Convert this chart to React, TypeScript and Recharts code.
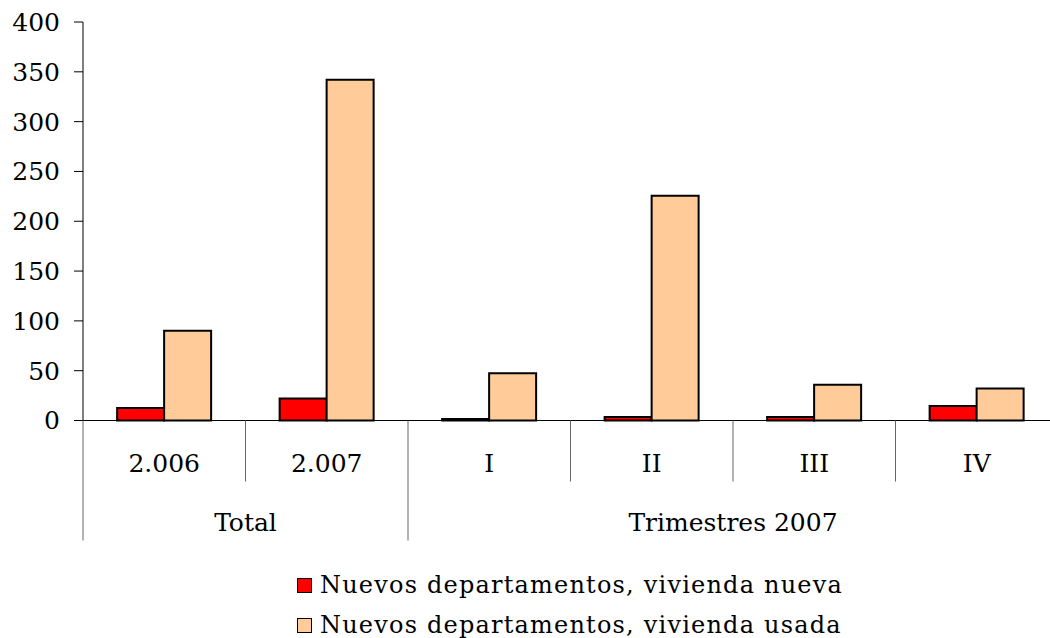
import { Bar, BarChart, Legend, XAxis, YAxis } from "recharts"

const categories = ["2.006", "2.007", "I", "II", "III", "IV"]
const nuevaValues = [12.5, 22, 1.5, 3.5, 3.5, 14.5]
const usadaValues = [90, 342, 47.5, 225.5, 36, 32]
const yTicks = [0, 50, 100, 150, 200, 250, 300, 350, 400]
const groups = [
  { label: "Total", start: 0, span: 2 },
  { label: "Trimestres 2007", start: 2, span: 4 },
]
const seriesNames = ["Nuevos departamentos, vivienda nueva", "Nuevos departamentos, vivienda usada"]

const data = categories.map((cat, i) => ({
  cat,
  nueva: nuevaValues[i],
  usada: usadaValues[i],
}))

const CHART_W = 1058
const CHART_H = 638
const Y_W = 83
const BAND = (CHART_W - Y_W) / categories.length
const FONT = "'DejaVu Serif', serif"

function CategoryTick(props: any) {
  const { x, y, payload } = props
  const i = payload.index
  const left = x - BAND / 2
  const groupStart = groups.find((g) => g.start === i)
  const isLast = i === categories.length - 1
  return (
    <g>
      <line x1={left} y1={y} x2={left} y2={y + (groupStart ? 120 : 61)} stroke="#666" strokeWidth={1} />
      {isLast && <line x1={x + BAND / 2} y1={y} x2={x + BAND / 2} y2={y + 120} stroke="#666" strokeWidth={1} />}
      <text x={x} y={y + 51} textAnchor="middle" fontSize={25} fontFamily={FONT} fill="#000">
        {payload.value}
      </text>
      {groupStart && (
        <text x={left + (groupStart.span * BAND) / 2} y={y + 110} textAnchor="middle" fontSize={25} fontFamily={FONT} fill="#000">
          {groupStart.label}
        </text>
      )}
    </g>
  )
}

function LegendBox() {
  const colors = ["#FF0000", "#FFCC99"]
  return (
    <div style={{ height: 87, paddingLeft: 297, paddingTop: 14, boxSizing: "border-box" }}>
      {seriesNames.map((name, i) => (
        <div key={name} style={{ display: "flex", alignItems: "center", height: 40 }}>
          <span
            style={{
              width: 13,
              height: 13,
              background: colors[i],
              border: "1.5px solid #000",
              marginRight: 8,
              display: "inline-block",
            }}
          />
          <span style={{ fontFamily: FONT, fontSize: 24, letterSpacing: 1.2, color: "#000" }}>{name}</span>
        </div>
      ))}
    </div>
  )
}

export default function App() {
  return (
    <div style={{ position: "absolute", left: 0, top: 0, width: 1050, height: 638, overflow: "hidden", background: "#fff" }}>
      <BarChart
        width={CHART_W}
        height={CHART_H}
        data={data}
        margin={{ top: 22, right: 0, left: 0, bottom: 0 }}
        barCategoryGap="21%"
        barGap={0}
      >
        <XAxis
          dataKey="cat"
          interval={0}
          height={130.5}
          tickLine={false}
          tickSize={0}
          tickMargin={0}
          axisLine={{ stroke: "#000", strokeWidth: 1 }}
          tick={<CategoryTick />}
        />
        <YAxis
          width={Y_W}
          domain={[0, 400]}
          ticks={yTicks}
          tickSize={9}
          tickMargin={14}
          axisLine={{ stroke: "#000", strokeWidth: 1 }}
          tickLine={{ stroke: "#000", strokeWidth: 1 }}
          tick={{ fontSize: 25, fontFamily: FONT, fill: "#000" }}
        />
        <Legend verticalAlign="bottom" height={87} wrapperStyle={{ left: 0, width: 1050 }} content={<LegendBox />} />
        <Bar dataKey="nueva" name={seriesNames[0]} fill="#FF0000" stroke="#000" strokeWidth={2} isAnimationActive={false} />
        <Bar dataKey="usada" name={seriesNames[1]} fill="#FFCC99" stroke="#000" strokeWidth={2} isAnimationActive={false} />
      </BarChart>
    </div>
  )
}
